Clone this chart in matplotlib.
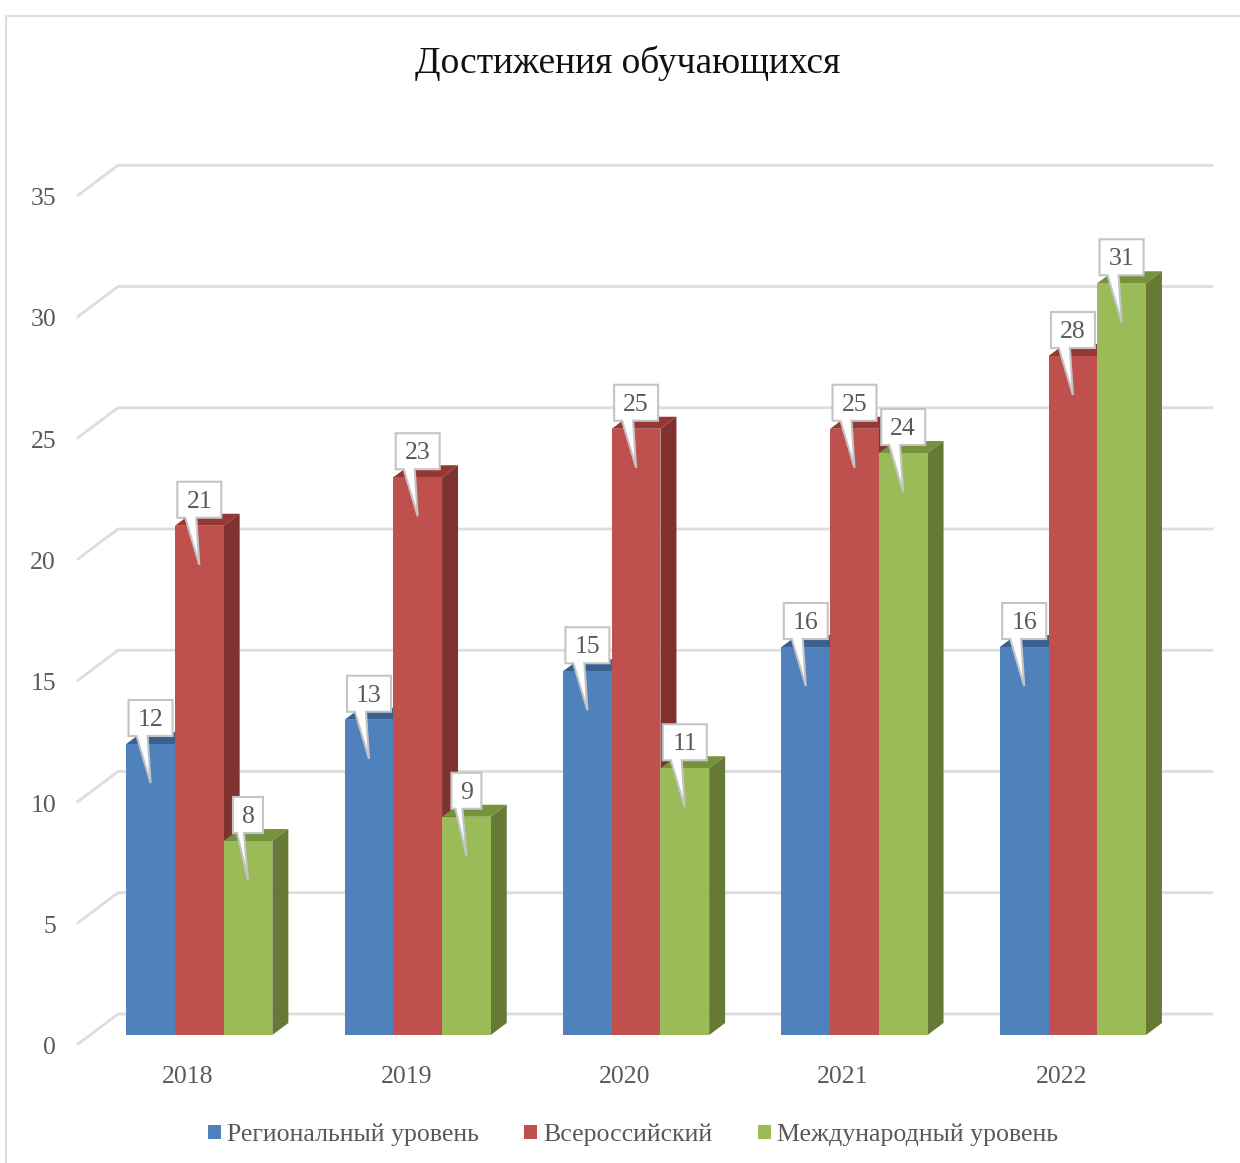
import matplotlib.pyplot as plt
from matplotlib.patches import Polygon, Patch, Rectangle

# ── Data ──────────────────────────────────────────────────────────────────────
YEARS    = ["2018", "2019", "2020", "2021", "2022"]
REGIONAL = [12, 13, 15, 16, 16]
RUSSIA   = [21, 23, 25, 25, 28]
INTL     = [8, 9, 11, 24, 31]
Y_TICKS  = [0, 5, 10, 15, 20, 25, 30, 35]

TITLE  = "Достижения обучающихся"
LABELS = ["Региональный уровень", "Всероссийский", "Международный уровень"]

# ── Style ─────────────────────────────────────────────────────────────────────
FRONT = ["#4F81BD", "#C0504D", "#9BBB59"]
TOP   = ["#3A6090", "#953735", "#76923C"]
SIDE  = ["#335580", "#7F3230", "#667A35"]
GRID  = "#DDDDDD"
TEXT  = "#595959"
FONT  = "Liberation Serif"

# pixel scale of the chart
W, H = 1240, 1163
PX_X = 218.4      # px per category
PX_Y = 24.25      # px per value unit
X0, Y0 = 199.3, 1035
BAR_W = 48.7 / PX_X


def px(dx=0, dy=0):
    # pixel offset -> data offset (dy positive = up)
    return dx / PX_X, dy / PX_Y


fig = plt.figure(figsize=(W / 100, H / 100), dpi=100)
ax = fig.add_axes([0, 0, 1, 1])
ax.set_xlim(-X0 / PX_X, (W - X0) / PX_X)
ax.set_ylim((Y0 - H) / PX_Y, Y0 / PX_Y)
ax.axis("off")

# chart frame, runs off the right and bottom edge
fig.add_artist(Rectangle((6 / W, -0.05), 1.1, 1.05 - 16 / H, transform=fig.transFigure,
                         fill=False, edgecolor="#DEDEDE", linewidth=1.6))

ax.text((628 - X0) / PX_X, (Y0 - 63) / PX_Y, TITLE, ha="center", va="center",
        fontsize=27, family=FONT, color="#111111")

# ── Gridlines: side wall + back wall ──────────────────────────────────────────
for v in Y_TICKS:
    fx, fy = px(78 - X0, -9)
    bx, by = px(118 - X0, 21)
    ex, _ = px(1212 - X0, 0)
    ax.plot([fx, bx, ex], [v + fy, v + by, v + by], color=GRID, lw=2, zorder=1,
            solid_joinstyle="miter")
    ax.text((56 - X0) / PX_X, v + px(0, -13)[1], str(v), ha="right", va="center",
            fontsize=18.5, family=FONT, color=TEXT)

# ── 3D-looking bars ───────────────────────────────────────────────────────────
ddx, ddy = px(16, 12)
for s, series in enumerate([REGIONAL, RUSSIA, INTL]):
    for i, v in enumerate(series):
        left = i + (s - 1.5) * BAR_W
        right = left + BAR_W
        z = 2 + s
        ax.add_patch(Rectangle((left, 0), BAR_W, v, facecolor=FRONT[s], edgecolor="none", zorder=z + 0.2))
        ax.add_patch(Polygon([(left, v), (right, v), (right + ddx, v + ddy), (left + ddx, v + ddy)],
                             facecolor=TOP[s], edgecolor="none", zorder=z + 0.1))
        ax.add_patch(Polygon([(right, 0), (right + ddx, ddy), (right + ddx, v + ddy), (right, v)],
                             facecolor=SIDE[s], edgecolor="none", zorder=z + 0.1))

# ── Callout labels ────────────────────────────────────────────────────────────
for s, series in enumerate([REGIONAL, RUSSIA, INTL]):
    for i, v in enumerate(series):
        cx = i + (s - 1) * BAR_W
        half = 22 if v >= 10 else 15
        base_l, base_r = (-14, -3) if v >= 10 else (-11, -4)
        pts = [(-half, 8), (base_l, 8), (0, -39), (base_r, 8), (half, 8), (half, 44), (-half, 44)]
        poly = [(cx + px(a, 0)[0], v + px(0, b)[1]) for a, b in pts]
        ax.add_patch(Polygon(poly, closed=True, facecolor="white", edgecolor="#C4C4C4",
                             linewidth=1.5, zorder=6 + s, joinstyle="miter"))
        ax.text(cx, v + px(0, 24)[1], str(v), ha="center", va="center",
                fontsize=18.5, family=FONT, color=TEXT, zorder=7 + s)

# ── Category labels and legend ────────────────────────────────────────────────
for i, year in enumerate(YEARS):
    ax.text(i - 11.5 / PX_X, (Y0 - 1077) / PX_Y, year, ha="center", va="center",
            fontsize=18.5, family=FONT, color=TEXT)

handles = [Patch(facecolor=c, edgecolor="none") for c in FRONT]
ax.legend(handles, LABELS, ncol=3, loc="center", frameon=False,
          bbox_to_anchor=(633 / W, 1 - 1135 / H), bbox_transform=fig.transFigure,
          prop={"family": FONT, "size": 18.6}, labelcolor=TEXT,
          handlelength=0.5, handleheight=0.5, handletextpad=0.24, columnspacing=1.75)

fig.savefig("out.png", dpi=100)
